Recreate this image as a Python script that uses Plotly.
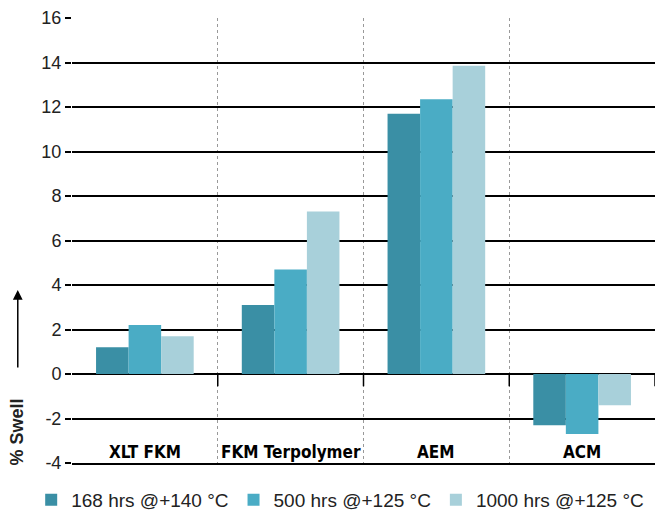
import plotly.graph_objects as go

categories = ["XLT FKM", "FKM Terpolymer", "AEM", "ACM"]
series_names = ["168 hrs @+140 °C", "500 hrs @+125 °C", "1000 hrs @+125 °C"]
swell_168 = [1.2, 3.1, 11.7, -2.3]
swell_500 = [2.2, 4.7, 12.35, -2.7]
swell_1000 = [1.7, 7.3, 13.85, -1.4]
series_values = [swell_168, swell_500, swell_1000]
colors = ["#3A8FA5", "#4AACC5", "#A8D0DA"]
y_ticks = [-4, -2, 0, 2, 4, 6, 8, 10, 12, 14, 16]
y_tick_labels = ["-4", "-2", "0", "2", "4", "6", "8", "10", "12", "14", "16"]

fig = go.Figure()
for name, vals, col in zip(series_names, series_values, colors):
    fig.add_trace(go.Bar(x=categories, y=vals, name=name, marker=dict(color=col, line=dict(width=0))))

# small tick marks at the category boundaries hanging from the zero line
for i in range(len(categories)):
    fig.add_shape(type="line", xref="x", yref="y", x0=i + 0.5, x1=i + 0.5, y0=0, y1=-0.55,
                  line=dict(color="black", width=1.5))

annotations = [
    dict(text="<b>% Swell</b>", textangle=-90, xref="paper", yref="paper",
         x=-0.095, y=0.07, xanchor="center", yanchor="middle", showarrow=False,
         font=dict(size=18, family="Liberation Sans, Arial, sans-serif", color="#222")),
    dict(text="", xref="paper", yref="paper", x=-0.093, y=0.389, ax=0, ay=79,
         axref="pixel", ayref="pixel", showarrow=True, arrowhead=2, arrowsize=1.3,
         arrowwidth=1.5, arrowcolor="black"),
]
for cat in categories:
    annotations.append(dict(text="<b>" + cat + "</b>", x=cat, xref="x", y=-3.5, yref="y",
                            showarrow=False, xanchor="center", yanchor="middle",
                            font=dict(size=17, color="black",
                                      family="Liberation Sans Narrow, DejaVu Sans Condensed, Arial Narrow, sans-serif")))

fig.update_layout(
    width=659, height=513,
    margin=dict(l=72, r=4, t=18, b=50, autoexpand=False),
    plot_bgcolor="white", paper_bgcolor="white",
    barmode="group", bargap=0.33, bargroupgap=0,
    font=dict(family="Liberation Sans, Arial, sans-serif", color="#222"),
    showlegend=True,
    legend=dict(orientation="h", x=-0.07, xanchor="left", y=-0.04, yanchor="top",
                font=dict(size=19, family="Liberation Sans, Arial, sans-serif", color="#222"),
                traceorder="normal", itemwidth=30, tracegroupgap=0),
    annotations=annotations,
)
fig.update_yaxes(range=[-4, 16], tickvals=y_ticks, ticktext=y_tick_labels, showgrid=True,
                 gridcolor="black", gridwidth=1.5,
                 zeroline=True, zerolinecolor="black", zerolinewidth=1.5,
                 ticks="outside", ticklen=6, tickcolor="black", tickwidth=1.5,
                 tickfont=dict(size=18, color="#222"), showline=False)
fig.update_xaxes(range=[-0.5, 3.5], tickson="boundaries", showgrid=True, gridcolor="#999",
                 griddash="dot", gridwidth=1, ticks="", showticklabels=False,
                 showline=True, linecolor="black", linewidth=1.5)

fig.write_html("out.html")
